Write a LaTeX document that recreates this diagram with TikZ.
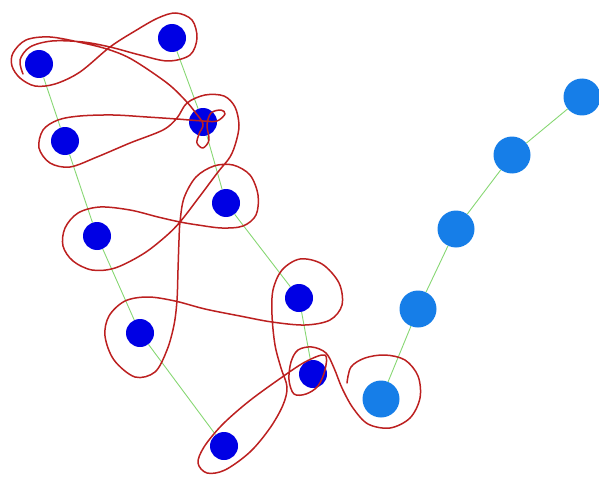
\documentclass[tikz,border=0pt]{standalone}
\usepackage{tikz}
\usetikzlibrary{positioning}
\definecolor{beadblue}{RGB}{0, 0, 228}
\definecolor{lightblue}{RGB}{22, 126, 232}
\definecolor{linkgreen}{RGB}{135, 215, 115}
\definecolor{knotred}{RGB}{188, 32, 32}

\begin{document}
\begin{tikzpicture}[x=1pt, y=-1pt,
    bead/.style={circle, fill=beadblue, minimum size=28pt, inner sep=0pt},
    lightbead/.style={circle, fill=lightblue, minimum size=37pt, inner sep=0pt},
    link/.style={linkgreen, line width=0.9pt},
    knot/.style={knotred, line width=1.5pt, line cap=round, line join=round}]
    \useasboundingbox (0,0) rectangle (599,476);

    % Hạt xanh đậm, chuỗi bên trái
    \node[bead] (b1) at (39,64) {};
    \node[bead] (b3) at (65,141) {};
    \node[bead] (b5) at (97,236) {};
    \node[bead] (b7) at (140,333) {};
    \node[bead] (b9) at (224,446) {};
    % Hạt xanh đậm, chuỗi bên phải
    \node[bead] (b2) at (172,38) {};
    \node[bead] (b4) at (203,122) {};
    \node[bead] (b6) at (226,203) {};
    \node[bead] (b8) at (299,298) {};
    \node[bead] (b10) at (313,374) {};
    % Hạt xanh nhạt
    \node[lightbead] (c1) at (381,399) {};
    \node[lightbead] (c2) at (418,309) {};
    \node[lightbead] (c3) at (456,229) {};
    \node[lightbead] (c4) at (512,155) {};
    \node[lightbead] (c5) at (582,97) {};

    % Nối các hạt bằng đường xanh lá
    \draw[link] (b1) -- (b3) -- (b5) -- (b7) -- (b9);
    \draw[link] (b2) -- (b4) -- (b6) -- (b8) -- (b10);
    \draw[link] (c1) -- (c2) -- (c3) -- (c4) -- (c5);

    % Sợi dây đỏ thắt nút
    \draw[knot] plot[smooth, tension=0.55] coordinates {
        % đầu móc quanh c1
        (347,383) (351,367) (365,358) (385,355) (405,360) (418,376) (420,398)
        (410,418) (390,428) (368,424) (353,408) (342,388) (334,368) (326,353)
        % vòng nhỏ quanh b10
        (312,347) (298,350) (291,362) (289,380) (294,394) (306,394) (318,386)
        (325,370) (325,355)
        % vòng dài quanh b9
        (305,362) (278,380) (248,402) (222,425) (204,447) (198,463) (207,473)
        (225,470) (250,452) (270,428) (283,405) (287,387) (281,368) (275,345)
        % vòng quanh b8
        (272,315) (273,290) (282,270) (300,259) (322,264) (339,283) (342,305)
        (330,320) (305,325) (272,322)
        % sang trái, vòng quanh b7
        (240,316) (205,309) (175,301) (148,297) (125,301) (109,316) (105,336)
        (114,360) (135,377) (155,372) (167,350) (174,325) (177,300)
        (178,270) (179,240) (180,222)
        % vòng quanh b6
        (184,198) (196,177) (214,166) (233,165) (250,175) (258,195) (256,215)
        (243,226) (222,228) (198,225) (180,222)
        % vòng quanh b5
        (158,217) (130,210) (100,207) (78,213) (65,228) (63,246) (73,261)
        (92,270) (115,268) (143,254) (165,237) (180,222)
        % lên b4
        (200,196) (218,172) (230,157) (236,142) (239,125) (235,107) (224,96)
        (205,95) (187,103) (177,118)
        % vòng quanh b3
        (163,130) (130,143) (97,157) (70,167) (50,163) (39,148) (43,130)
        (58,120) (80,116) (113,115) (147,117) (177,119)
        % nút nhỏ ở b4
        (203,121) (217,121) (225,114) (221,110) (211,113) (207,125) (209,140)
        (203,148) (197,143) (199,134) (203,124) (195,112) (185,100)
        % lên b1, quanh b1 và b2
        (167,83) (133,60) (110,50) (83,43) (50,37) (26,40) (13,53) (12,66)
        (20,78) (35,86) (55,84) (80,72) (110,47) (135,31) (158,18) (176,13)
        (192,20) (197,38) (190,55) (168,61) (140,55) (110,47) (83,42) (52,41)
        (30,47) (20,60) (23,74)
    };
\end{tikzpicture}
\end{document}
